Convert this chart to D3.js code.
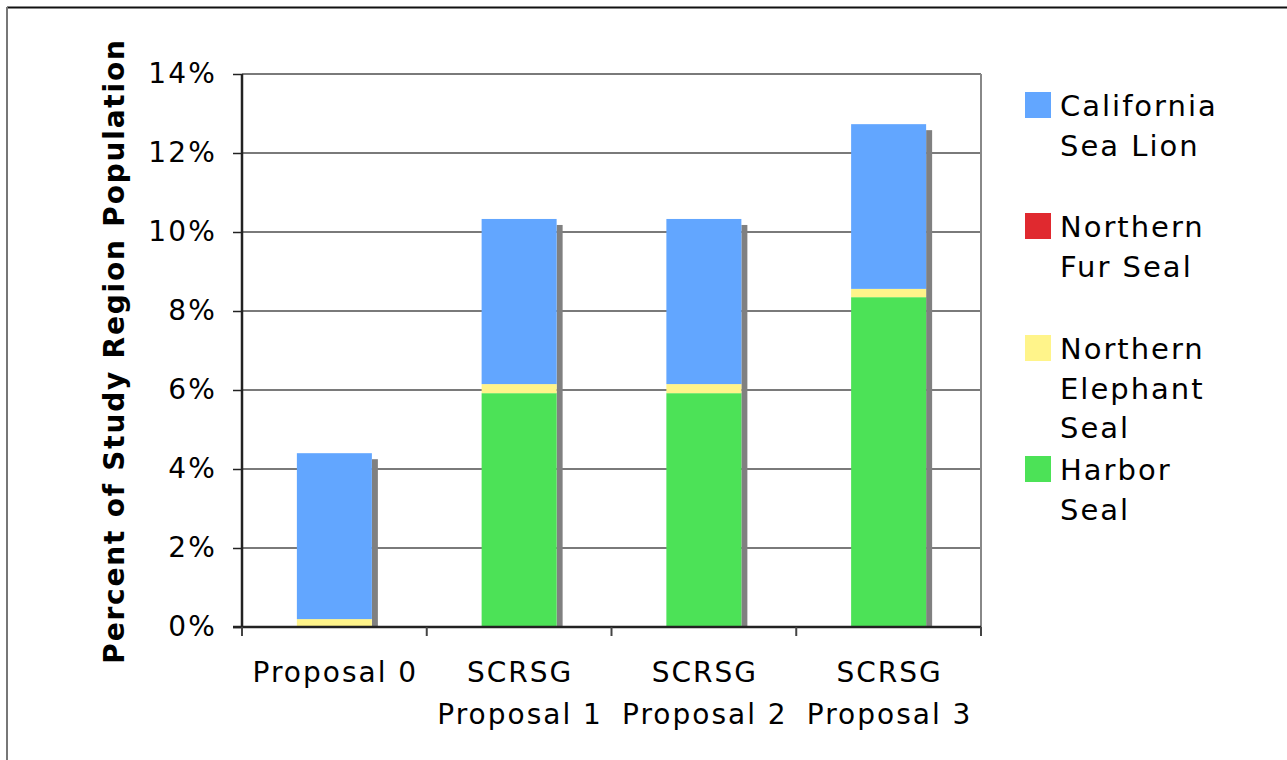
<!DOCTYPE html>
<html><head><meta charset="utf-8">
<script src="https://cdn.jsdelivr.net/npm/d3@7"></script>
<style>body{margin:0;background:#fff}svg{display:block}text{font-family:"DejaVu Sans",Verdana,sans-serif}</style>
</head><body>
<svg id="c" width="1287" height="760"></svg>
<script>
const categories = [["Proposal 0"], ["SCRSG","Proposal 1"], ["SCRSG","Proposal 2"], ["SCRSG","Proposal 3"]];
const harborSeal = [0, 5.92, 5.92, 8.35];
const elephantSeal = [0.2, 0.23, 0.23, 0.21];
const furSeal = [0, 0, 0, 0];
const seaLion = [4.2, 4.18, 4.18, 4.17];
const yTicks = [0, 2, 4, 6, 8, 10, 12, 14];
const seriesNames = [["Harbor","Seal"], ["Northern","Elephant","Seal"], ["Northern","Fur Seal"], ["California","Sea Lion"]];
const seriesColors = ["#4CE257", "#FFF48A", "#E0292F", "#62A6FF"];
const legendOrder = [3, 2, 1, 0];

const svg = d3.select("#c");
const L = 242, R = 981, T = 74, B = 627;
const keys = ["h","e","f","s"];
const rows = categories.map((c,i)=>({i, h:harborSeal[i], e:elephantSeal[i], f:furSeal[i], s:seaLion[i]}));
const stack = d3.stack().keys(keys)(rows);

const x = d3.scaleBand().domain(d3.range(categories.length)).range([L,R]).paddingInner(0.594).paddingOuter(0.297);
const y = d3.scaleLinear().domain([0,14]).range([B,T]);

// outer frame
svg.append("line").attr("x1",7).attr("x2",1287).attr("y1",7.5).attr("y2",7.5).attr("stroke","#111").attr("stroke-width",2);
svg.append("line").attr("x1",7).attr("x2",7).attr("y1",7).attr("y2",760).attr("stroke","#777").attr("stroke-width",2);

// gridlines
svg.append("g").selectAll("line").data(yTicks.filter(d=>d>0)).join("line")
  .attr("x1",L).attr("x2",R).attr("y1",d=>y(d)).attr("y2",d=>y(d))
  .attr("stroke","#7a7a7a").attr("stroke-width",2);
svg.append("line").attr("x1",R).attr("x2",R).attr("y1",T).attr("y2",B).attr("stroke","#888").attr("stroke-width",2);

// shadows
const totals = rows.map(r=>r.h+r.e+r.f+r.s);
svg.append("g").selectAll("rect").data(rows).join("rect")
  .attr("x",d=>x(d.i)+x.bandwidth()).attr("width",6)
  .attr("y",d=>y(totals[d.i])+6).attr("height",d=>B-y(totals[d.i])-6)
  .attr("fill","#808080");

// bars
svg.append("g").selectAll("g").data(stack).join("g")
  .attr("fill",(d,i)=>seriesColors[i])
  .selectAll("rect").data(d=>d).join("rect")
  .attr("x",(d,j)=>x(j)).attr("width",x.bandwidth())
  .attr("y",d=>y(d[1])).attr("height",d=>y(d[0])-y(d[1]));

// y axis
const ya = svg.append("g").attr("transform",`translate(${L},0)`)
  .call(d3.axisLeft(y).tickValues(yTicks).tickFormat(d=>d+"%").tickSize(9).tickPadding(16));
ya.select(".domain").attr("stroke","#222").attr("stroke-width",2.5).attr("d",`M0,${T}V${B}`);
ya.selectAll(".tick line").attr("stroke","#222").attr("stroke-width",1.5);
ya.selectAll(".tick text").attr("font-size",28).attr("letter-spacing","2.2px").attr("fill","#000").attr("font-family","DejaVu Sans, Verdana, sans-serif");

// x axis
svg.append("line").attr("x1",L-9).attr("x2",R).attr("y1",B).attr("y2",B).attr("stroke","#222").attr("stroke-width",2.5);
const bounds = d3.range(categories.length+1).map(i=>L + i*x.step());
svg.append("g").selectAll("line").data(bounds).join("line")
  .attr("x1",d=>d).attr("x2",d=>d).attr("y1",B).attr("y2",B+9).attr("stroke","#444").attr("stroke-width",2);
const xl = svg.append("g").selectAll("text").data(categories).join("text")
  .attr("x",(d,i)=>x(i)+x.bandwidth()/2+1).attr("y",682).attr("text-anchor","middle")
  .attr("font-size",28).attr("letter-spacing","2px").attr("fill","#000");
xl.selectAll("tspan").data(d=>d).join("tspan")
  .attr("x",function(){return this.parentNode.getAttribute("x");})
  .attr("dy",(d,k)=>k===0?0:42).text(d=>d);

// y title
svg.append("text").attr("transform","translate(124,351) rotate(-90)")
  .attr("text-anchor","middle").attr("font-size",28).attr("letter-spacing","1.8px").attr("font-weight","bold").attr("fill","#000")
  .text("Percent of Study Region Population");

// legend
const legY = [92, 213, 335, 456];
const lg = svg.append("g").selectAll("g").data(legendOrder).join("g")
  .attr("transform",(d,i)=>`translate(1025,${legY[i]})`);
lg.append("rect").attr("width",26).attr("height",26).attr("fill",d=>seriesColors[d]);
const lt = lg.append("text").attr("x",35).attr("y",24).attr("font-size",29).attr("letter-spacing","2px").attr("fill","#000");
lt.selectAll("tspan").data(d=>seriesNames[d]).join("tspan")
  .attr("x",35).attr("dy",(d,k)=>k===0?0:39.5).text(d=>d);
</script>
</body></html>
